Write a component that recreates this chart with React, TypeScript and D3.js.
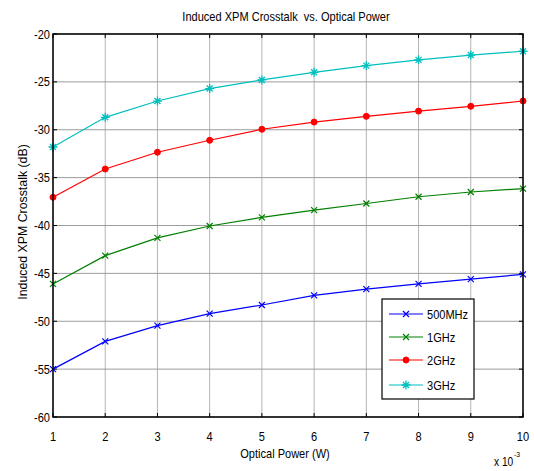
import React from "react";
import * as d3 from "d3";

const xValues = [1, 2, 3, 4, 5, 6, 7, 8, 9, 10];
const seriesNames = ["500MHz", "1GHz", "2GHz", "3GHz"];
const s500MHz = [-55.0, -52.1, -50.45, -49.2, -48.3, -47.3, -46.65, -46.1, -45.6, -45.1];
const s1GHz = [-46.1, -43.15, -41.3, -40.05, -39.15, -38.4, -37.7, -37.0, -36.5, -36.15];
const s2GHz = [-37.05, -34.1, -32.35, -31.1, -29.95, -29.2, -28.6, -28.05, -27.55, -27.0];
const s3GHz = [-31.8, -28.7, -27.0, -25.7, -24.8, -24.0, -23.3, -22.7, -22.2, -21.8];
const xTicks = [1, 2, 3, 4, 5, 6, 7, 8, 9, 10];
const yTicks = [-20, -25, -30, -35, -40, -45, -50, -55, -60];

const W = 534;
const H = 471;
const L = 53, R = 523, T = 34, B = 417;
const FONT = "'Liberation Sans', Arial, sans-serif";
const SX = 0.85;

const colors = ["#0000ff", "#008000", "#ff0000", "#00bfbf"];
const markers = ["x", "x", "dot", "star"];

function NText({ x, y, anchor = "start", size = 13, sx = SX, children }: any) {
  return (
    <g transform={`translate(${x},${y}) scale(${sx},1)`}>
      <text x={0} y={0} textAnchor={anchor} fontFamily={FONT} fontSize={size} fill="#000" style={{ whiteSpace: "pre" }}>
        {children}
      </text>
    </g>
  );
}

function Marker({ type, x, y, color }: { type: string; x: number; y: number; color: string }) {
  const s = 3;
  if (type === "dot") return <circle cx={x} cy={y} r={3} fill={color} stroke={color} />;
  if (type === "x")
    return (
      <path d={`M${x - s},${y - s}L${x + s},${y + s}M${x - s},${y + s}L${x + s},${y - s}`} stroke={color} strokeWidth={1.2} fill="none" />
    );
  const t = 4.5;
  return (
    <path
      d={`M${x - t},${y}L${x + t},${y}M${x},${y - t}L${x},${y + t}M${x - s},${y - s}L${x + s},${y + s}M${x - s},${y + s}L${x + s},${y - s}`}
      stroke={color}
      strokeWidth={1.3}
      fill="none"
    />
  );
}

export default function App() {
  const x = d3.scaleLinear().domain([1, 10]).range([L, R]);
  const y = d3.scaleLinear().domain([-60, -20]).range([B, T]);
  const data = [s500MHz, s1GHz, s2GHz, s3GHz];
  const line = d3
    .line<number>()
    .x((_, i) => x(xValues[i]))
    .y((d) => y(d));

  const legX = 382, legY = 299, legW = 92, legH = 100;
  const legRows = [314, 337, 360, 385];

  return (
    <svg width={W} height={H} style={{ position: "absolute", left: 0, top: 0, background: "#fff" }}>
      <rect x={0} y={0} width={W} height={H} fill="#fff" />
      {xTicks.map((t) => (
        <line key={"gx" + t} x1={x(t)} x2={x(t)} y1={T} y2={B} stroke="#b4b4b4" strokeWidth={1} />
      ))}
      {yTicks.map((t) => (
        <line key={"gy" + t} x1={L} x2={R} y1={y(t)} y2={y(t)} stroke="#9c9c9c" strokeWidth={1} />
      ))}
      {xTicks.map((t) => (
        <g key={"tx" + t} stroke="#000">
          <line x1={x(t)} x2={x(t)} y1={B} y2={B - 4} />
          <line x1={x(t)} x2={x(t)} y1={T} y2={T + 4} />
        </g>
      ))}
      {yTicks.map((t) => (
        <g key={"ty" + t} stroke="#000">
          <line x1={L} x2={L + 4} y1={y(t)} y2={y(t)} />
          <line x1={R} x2={R - 4} y1={y(t)} y2={y(t)} />
        </g>
      ))}
      {data.map((d, i) => (
        <g key={"s" + i}>
          <path d={line(d) || ""} fill="none" stroke={colors[i]} strokeWidth={1.2} />
          {d.map((v, j) => (
            <Marker key={j} type={markers[i]} x={x(xValues[j])} y={y(v)} color={colors[i]} />
          ))}
        </g>
      ))}
      <rect x={L} y={T} width={R - L} height={B - T} fill="none" stroke="#000" strokeWidth={1.5} />
      {xTicks.map((t) => (
        <NText key={"lx" + t} x={x(t)} y={441} anchor="middle">
          {t}
        </NText>
      ))}
      {yTicks.map((t) => (
        <NText key={"ly" + t} x={50} y={y(t) + 4.5} anchor="end">
          {t}
        </NText>
      ))}
      <NText x={494} y={466} size={12}>
        x 10
      </NText>
      <NText x={514} y={457} size={8}>
        -3
      </NText>
      <NText x={286} y={21} anchor="middle">
        {"Induced XPM Crosstalk  vs. Optical Power"}
      </NText>
      <NText x={285} y={458} anchor="middle">
        Optical Power (W)
      </NText>
      <g transform={`translate(27,222) rotate(-90)`}>
        <NText x={0} y={0} anchor="middle" sx={0.95}>
          Induced XPM Crosstalk (dB)
        </NText>
      </g>
      <rect x={legX} y={legY} width={legW} height={legH} fill="#fff" stroke="#000" strokeWidth={1.2} />
      {seriesNames.map((n, i) => (
        <g key={"leg" + i}>
          <line x1={389} x2={423} y1={legRows[i]} y2={legRows[i]} stroke={colors[i]} strokeWidth={1.2} />
          <Marker type={markers[i]} x={406} y={legRows[i]} color={colors[i]} />
          <NText x={427} y={legRows[i] + 4.5}>
            {n}
          </NText>
        </g>
      ))}
    </svg>
  );
}
